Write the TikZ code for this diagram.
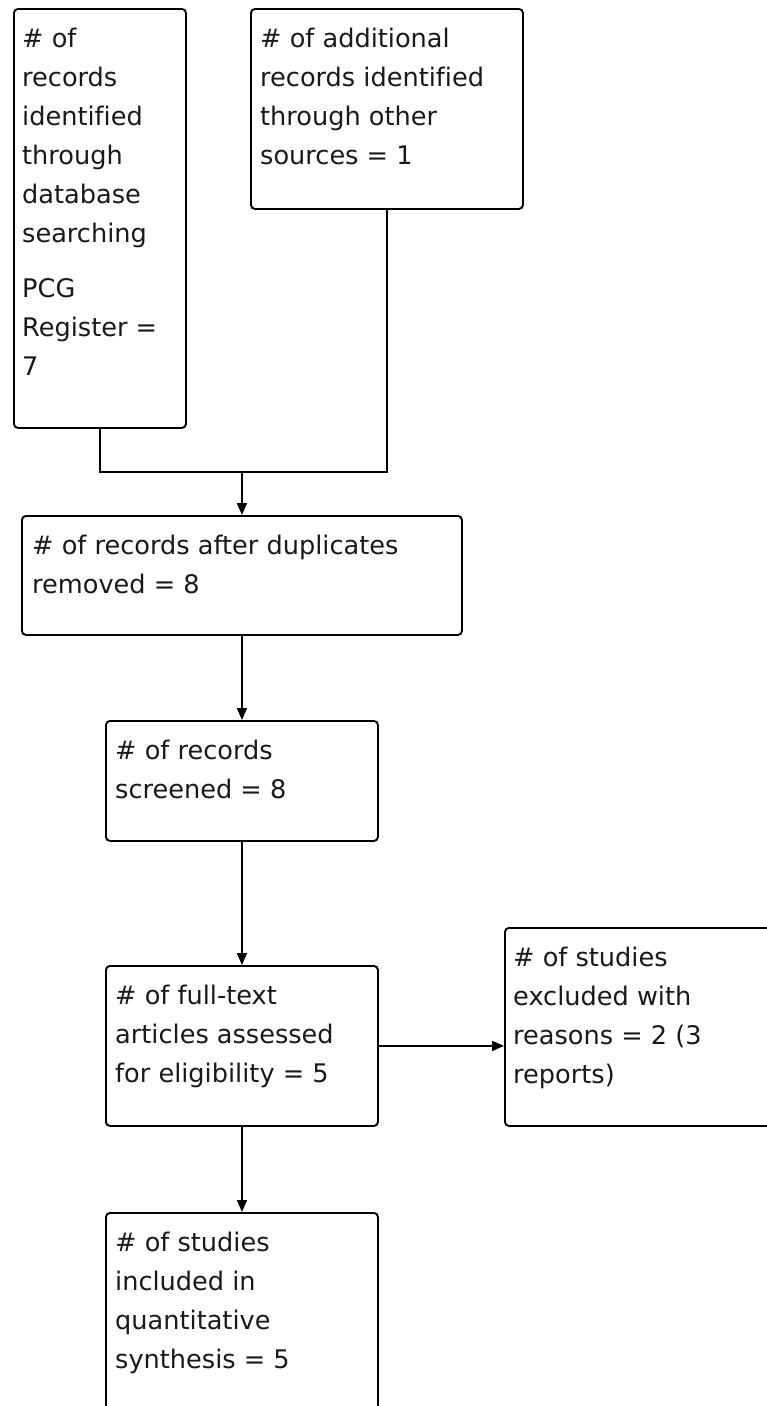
\documentclass[tikz,border=0pt]{standalone}
\usepackage{fontspec}
\newfontfamily\dejavu[Ligatures=NoCommon]{DejaVu Sans}
\usetikzlibrary{arrows.meta,calc}
\tikzset{
  box/.style={draw=black, line width=1.9pt, rounded corners=4pt, rectangle, inner sep=0pt, anchor=north west},
  txt/.style={font=\dejavu\fontsize{25.6}{39}\selectfont, align=left, inner sep=0pt, anchor=north west, text=black!90},
  conn/.style={draw=black, line width=1.9pt},
  arr/.style={conn, -{Triangle[length=12pt,width=10pt]}}
}
\begin{document}
\begin{tikzpicture}[x=1pt,y=-1pt]
\useasboundingbox (0,0) rectangle (767,1406);
% boxes
\node[box, minimum width=172pt, minimum height=419pt] (a) at (13,8) {};
\node[box, minimum width=272pt, minimum height=200pt] (b) at (250,8) {};
\node[box, minimum width=440pt, minimum height=119pt] (c) at (21,515) {};
\node[box, minimum width=272pt, minimum height=120pt] (d) at (105,720) {};
\node[box, minimum width=272pt, minimum height=160pt] (e) at (105,965) {};
\node[box, minimum width=320pt, minimum height=198pt] (f) at (504,927) {};
\node[box, minimum width=272pt, minimum height=260pt] (g) at (105,1212) {};
% texts
\node[txt] (ta) at ([xshift=9pt,yshift=-11.7pt]a.north west) {\strut\# of\\records\\identified\\through\\database\\searching\\[16pt]PCG\\Register =\\7};
\node[txt] (tb) at ([xshift=10pt,yshift=-11.7pt]b.north west) {\strut\# of additional\\records identified\\through other\\sources = 1};
\node[txt] (tc) at ([xshift=11pt,yshift=-11.7pt]c.north west) {\strut\# of records after duplicates\\removed = 8};
\node[txt] (td) at ([xshift=10pt,yshift=-11.7pt]d.north west) {\strut\# of records\\screened = 8};
\node[txt] (te) at ([xshift=10pt,yshift=-11.7pt]e.north west) {\strut\# of full-text\\articles assessed\\for eligibility = 5};
\node[txt] (tf) at ([xshift=9pt,yshift=-11.7pt]f.north west) {\strut\# of studies\\excluded with\\reasons = 2 (3\\reports)};
\node[txt] (tg) at ([xshift=10pt,yshift=-11.7pt]g.north west) {\strut\# of studies\\included in\\quantitative\\synthesis = 5};
% connectors
\coordinate (j) at (c.north |- 0,472);
\draw[conn] (a.south) |- (j) -| (b.south);
\draw[arr] (j) -- (c.north);
\draw[arr] (c.south) -- (d.north);
\draw[arr] (d.south) -- (e.north);
\draw[arr] (e.east) -- (e.east -| f.west);
\draw[arr] (e.south) -- (g.north);
\end{tikzpicture}
\end{document}
